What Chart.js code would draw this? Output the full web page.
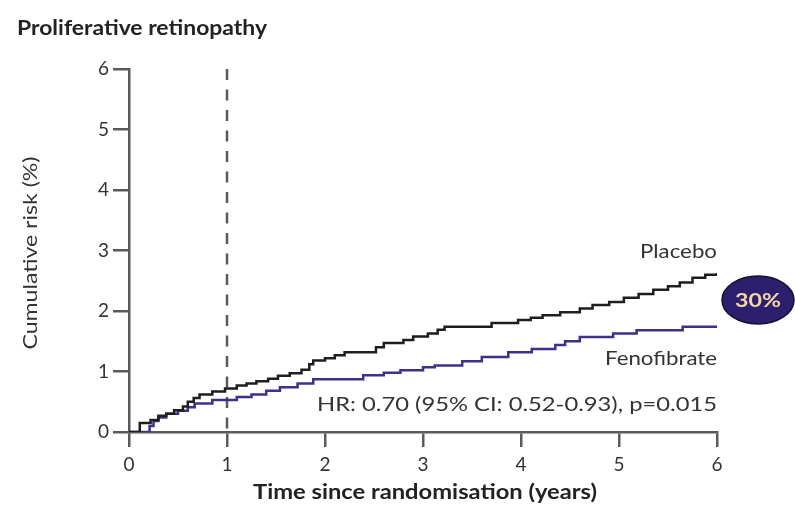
<!DOCTYPE html>
<html>
<head>
<meta charset="utf-8">
<script src="https://cdn.jsdelivr.net/npm/chart.js@4/dist/chart.umd.min.js"></script>
<style>
  html, body { margin: 0; padding: 0; background: #fff; }
  #wrap { width: 795px; height: 510px; position: relative; }
</style>
</head>
<body>
<div id="wrap"><canvas id="chartPR"></canvas></div>
<script>
// Kaplan-Meier style cumulative risk (%) by year since randomisation
const placeboTime = [0, 0.11, 0.22, 0.3, 0.38, 0.46, 0.55, 0.6, 0.66, 0.72, 0.85, 0.98, 1.1, 1.2, 1.3, 1.42, 1.52, 1.64, 1.76, 1.84, 1.88, 2.0, 2.1, 2.2, 2.52, 2.6, 2.8, 2.9, 3.05, 3.15, 3.22, 3.7, 3.97, 4.1, 4.22, 4.4, 4.6, 4.73, 4.9, 5.05, 5.2, 5.35, 5.5, 5.62, 5.75, 5.88, 6.0];
const placeboRisk = [0, 0.15, 0.2, 0.27, 0.3, 0.36, 0.42, 0.5, 0.56, 0.62, 0.67, 0.72, 0.77, 0.8, 0.84, 0.88, 0.93, 0.97, 1.03, 1.12, 1.18, 1.22, 1.27, 1.32, 1.4, 1.47, 1.52, 1.58, 1.63, 1.69, 1.74, 1.8, 1.85, 1.89, 1.93, 1.98, 2.04, 2.1, 2.15, 2.22, 2.28, 2.35, 2.41, 2.47, 2.55, 2.6, 2.63];
const fenoTime = [0, 0.21, 0.25, 0.3, 0.38, 0.5, 0.6, 0.67, 0.85, 1.1, 1.25, 1.4, 1.54, 1.72, 1.88, 2.39, 2.6, 2.77, 3.0, 3.12, 3.4, 3.6, 3.87, 4.11, 4.35, 4.45, 4.6, 4.94, 5.18, 5.65, 6.0];
const fenoRisk = [0, 0.1, 0.18, 0.24, 0.3, 0.35, 0.41, 0.47, 0.53, 0.58, 0.62, 0.68, 0.74, 0.8, 0.87, 0.94, 0.98, 1.02, 1.07, 1.1, 1.17, 1.24, 1.32, 1.37, 1.44, 1.5, 1.57, 1.63, 1.68, 1.74, 1.74];
const xTicks = [0, 1, 2, 3, 4, 5, 6];
const yTicks = [0, 1, 2, 3, 4, 5, 6];
const landmarkYear = 1;
const reduction = "30%";
const hrText = "HR: 0.70 (95% CI: 0.52-0.93), p=0.015";

const FONT = "Lato, 'Open Sans', sans-serif";
const AXIS = "#5a5a5a";

const toPoints = (t, v) => t.map((x, i) => ({ x: x, y: v[i] }));

// draw text squeezed/stretched to a given width
function fitText(ctx, text, x, y, width, align) {
  const w = ctx.measureText(text).width;
  const k = width / w;
  ctx.save();
  ctx.translate(x, y);
  ctx.scale(k, 1);
  ctx.textAlign = align;
  ctx.fillText(text, 0, 0);
  ctx.restore();
}

// dashed landmark line + free text labels
const extras = {
  id: "extras",
  beforeDatasetsDraw(chart) {
    const { ctx, scales: { x, y } } = chart;
    const px = x.getPixelForValue(landmarkYear);
    ctx.save();
    ctx.strokeStyle = AXIS;
    ctx.lineWidth = 2.5;
    ctx.setLineDash([11, 9.5]);
    ctx.beginPath();
    ctx.moveTo(px, y.getPixelForValue(6));
    ctx.lineTo(px, y.getPixelForValue(0) + 6);
    ctx.stroke();
    ctx.restore();
  },
  afterDraw(chart) {
    const { ctx, scales: { x } } = chart;
    const right = x.getPixelForValue(6);
    ctx.save();
    ctx.textBaseline = "middle";

    ctx.fillStyle = "#222";
    ctx.font = "bold 20px " + FONT;
    fitText(ctx, "Proliferative retinopathy", 17, 29, 250, "left");
    fitText(ctx, "Time since randomisation (years)", 425, 493, 344, "center");

    ctx.fillStyle = "#333";
    ctx.save();
    ctx.translate(31, 253);
    ctx.rotate(-Math.PI / 2);
    ctx.font = "19px " + FONT;
    fitText(ctx, "Cumulative risk (%)", 0, 0, 193, "center");
    ctx.restore();

    ctx.font = "19px " + FONT;
    fitText(ctx, "Placebo", right, 252, 77, "right");
    fitText(ctx, "Fenofibrate", right, 359, 112, "right");
    ctx.font = "20px " + FONT;
    fitText(ctx, hrText, right, 405, 400, "right");

    // reduction badge
    ctx.beginPath();
    ctx.ellipse(758, 300, 36, 24, 0, 0, Math.PI * 2);
    ctx.fillStyle = "#2c1f6e";
    ctx.fill();
    ctx.lineWidth = 1.5;
    ctx.strokeStyle = "#15102e";
    ctx.stroke();
    ctx.fillStyle = "#f2d6a6";
    ctx.font = "bold 19px " + FONT;
    fitText(ctx, reduction, 758, 301, 46, "center");
    ctx.restore();
  }
};

new Chart(document.querySelector("#chartPR"), {
  type: "line",
  data: {
    datasets: [
      {
        label: "Placebo",
        data: toPoints(placeboTime, placeboRisk),
        stepped: true,
        borderColor: "#1e1e1e",
        borderWidth: 2.5,
        pointRadius: 0,
        fill: false,
      },
      {
        label: "Fenofibrate",
        data: toPoints(fenoTime, fenoRisk),
        stepped: true,
        borderColor: "#3f3088",
        borderWidth: 2.5,
        pointRadius: 0,
        fill: false,
      },
    ],
  },
  options: {
    responsive: true,
    maintainAspectRatio: false,
    animation: false,
    layout: { padding: { left: 0, right: 78, top: 69, bottom: 0 } },
    plugins: { legend: { display: false }, tooltip: { enabled: false } },
    scales: {
      x: {
        type: "linear",
        min: 0,
        max: 6,
        afterFit: (s) => { s.height = 78; },
        afterBuildTicks: (s) => { s.ticks = xTicks.map((v) => ({ value: v })); },
        border: { color: AXIS, width: 2.5 },
        grid: { drawOnChartArea: false, drawTicks: true, tickLength: 15, color: AXIS, lineWidth: 2.5 },
        ticks: { padding: 6, color: "#333", font: { family: FONT, size: 19 } },
      },
      y: {
        min: 0,
        max: 6,
        afterFit: (s) => { s.width = 129; },
        afterBuildTicks: (s) => { s.ticks = yTicks.map((v) => ({ value: v })); },
        border: { color: AXIS, width: 2.5 },
        grid: { drawOnChartArea: false, drawTicks: true, tickLength: 16, color: AXIS, lineWidth: 2.5 },
        ticks: { padding: 4, color: "#333", font: { family: FONT, size: 19 } },
      },
    },
  },
  plugins: [extras],
});
</script>
</body>
</html>
